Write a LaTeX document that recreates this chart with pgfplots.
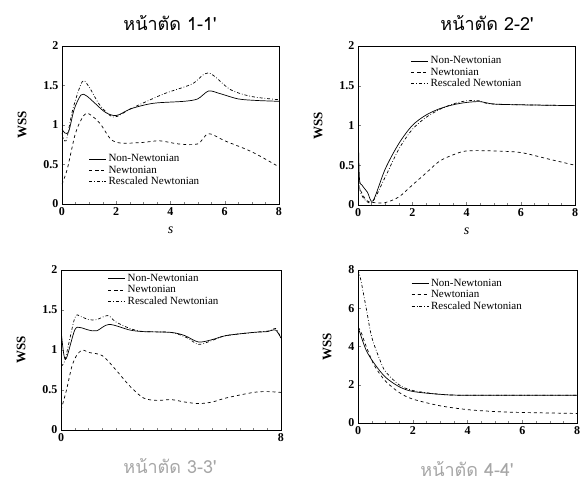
\documentclass[border=0pt]{standalone}
\usepackage{pgfplots}
\pgfplotsset{compat=1.18}
\usepackage{fontspec}
\setmainfont{Liberation Serif}
\newfontfamily\thaifont[Script=Thai]{Loma}

\pgfplotsset{
  wss/.style={
    scale only axis,
    xmin=0, xmax=8, ymin=0, ymax=2,
    xtick={0,2,4,6,8}, ytick={0,0.5,1,1.5,2},
    minor x tick num=3,
    tick align=inside, xtick pos=left, ytick pos=left,
    major tick length=3pt, minor tick length=2pt,
    axis line style={line width=0.6pt},
    ticklabel style={font=\bfseries\fontsize{12}{12}\selectfont},
    /pgf/number format/assume math mode=true,
    ylabel={\bfseries WSS}, ylabel style={font=\fontsize{13}{13}\selectfont, yshift=10pt},
    xlabel style={font=\itshape\fontsize{14}{14}\selectfont, yshift=-4pt},
    legend cell align=left,
    legend style={draw=none, fill=none, font=\fontsize{11}{11}\selectfont,
      row sep=-1.5pt, inner sep=0.5pt},
    every axis plot/.append style={line width=0.7pt, smooth, black},
  },
  nn/.style={solid},
  nw/.style={dashed},
  rs/.style={dashdotted},
}

\begin{document}
\begin{tikzpicture}
\useasboundingbox (0pt,0pt) rectangle (580pt,490pt);

% panel 1-1'
\begin{axis}[wss, at={(62pt,286pt)}, anchor=south west, width=217pt, height=158pt,
  xlabel={s},
  legend style={at={(0.12,0.33)}, anchor=north west}]
\addplot[nn] coordinates {(0,0.95) (0.1,0.9) (0.25,0.92) (0.45,1.2) (0.7,1.38) (0.9,1.37) (1.2,1.28) (1.6,1.16) (2,1.12) (2.5,1.2) (3,1.25) (3.5,1.28) (4.5,1.3) (5,1.33) (5.4,1.43) (5.8,1.4) (6.5,1.33) (7.2,1.31) (8,1.3)};
\addplot[nw] coordinates {(0,0.25) (0.2,0.45) (0.5,0.9) (0.8,1.12) (1,1.14) (1.4,1.02) (1.8,0.82) (2.2,0.77) (3,0.78) (3.6,0.8) (4.3,0.76) (5,0.76) (5.4,0.89) (6,0.8) (7,0.66) (8,0.47)};
\addplot[rs] coordinates {(0,0.9) (0.15,0.8) (0.4,1.2) (0.75,1.55) (1,1.48) (1.4,1.25) (1.9,1.1) (2.5,1.2) (3,1.28) (3.8,1.4) (4.8,1.52) (5.4,1.66) (6.2,1.45) (7,1.36) (8,1.32)};
\legend{Non-Newtonian, Newtonian, Rescaled Newtonian}
\end{axis}

% panel 2-2'
\begin{axis}[wss, at={(358pt,285pt)}, anchor=south west, width=217pt, height=159pt,
  xlabel={s},
  legend style={at={(0.24,0.95)}, anchor=north west}]
\addplot[nn] coordinates {(0,1.1) (0.05,0.35) (0.15,0.25) (0.35,0.16) (0.55,0.05) (1,0.45) (1.5,0.77) (2,1.0) (2.5,1.13) (3,1.21) (3.5,1.26) (4,1.29) (4.5,1.3) (5,1.27) (6,1.26) (8,1.25)};
\addplot[nw] coordinates {(0,0.25) (0.3,0.06) (0.6,0.03) (1,0.03) (1.5,0.1) (2,0.25) (2.5,0.4) (3,0.55) (3.5,0.63) (4,0.68) (5,0.68) (6,0.66) (7,0.58) (8,0.5)};
\addplot[rs] coordinates {(0,0.5) (0.1,0.15) (0.5,0.03) (1,0.35) (1.5,0.7) (2,0.95) (2.5,1.1) (3,1.2) (3.5,1.27) (4,1.31) (4.5,1.31) (5,1.27) (8,1.25)};
\legend{Non-Newtonian, Newtonian, Rescaled Newtonian}
\end{axis}

% panel 3-3'
\begin{axis}[wss, at={(61pt,60pt)}, anchor=south west, width=220pt, height=160pt,
  xtick={0,8}, minor xtick={0.5,1,...,7.5},
  legend style={at={(0.21,0.99)}, anchor=north west}]
\addplot[nn] coordinates {(0,1.25) (0.1,0.95) (0.2,0.9) (0.5,1.25) (0.7,1.28) (1,1.25) (1.3,1.24) (1.75,1.32) (2.5,1.25) (3,1.23) (4,1.22) (4.5,1.18) (5,1.1) (5.5,1.13) (6,1.18) (7,1.22) (7.5,1.23) (7.8,1.25) (8,1.15)};
\addplot[nw] coordinates {(0,0.25) (0.2,0.5) (0.4,0.8) (0.6,0.95) (0.8,1.0) (1,0.97) (1.5,0.93) (2,0.75) (2.5,0.55) (3,0.4) (3.5,0.37) (4,0.38) (4.5,0.35) (5,0.33) (5.5,0.35) (6,0.4) (7,0.47) (7.5,0.48) (8,0.47)};
\addplot[rs] coordinates {(0,0.8) (0.15,0.88) (0.5,1.4) (0.7,1.42) (1,1.38) (1.3,1.38) (1.7,1.43) (2,1.35) (2.5,1.27) (3,1.23) (4,1.22) (4.6,1.15) (5,1.07) (5.5,1.12) (6,1.18) (7,1.22) (7.6,1.24) (7.8,1.27) (8,1.15)};
\legend{Non-Newtonian, Newtonian, Rescaled Newtonian}
\end{axis}

% panel 4-4'
\begin{axis}[wss, at={(358pt,67pt)}, anchor=south west, width=219pt, height=153pt,
  ymax=8, ytick={0,2,4,6,8},
  legend style={at={(0.24,0.96)}, anchor=north west}]
\addplot[nn] coordinates {(0,5) (0.05,4.8) (0.3,3.8) (0.6,3.1) (1,2.4) (1.5,1.9) (2,1.65) (3,1.5) (4,1.45) (8,1.45)};
\addplot[nw] coordinates {(0,5) (0.1,4.8) (0.3,4.0) (0.6,3.0) (1,2.2) (1.5,1.6) (2,1.25) (3,0.9) (4,0.7) (5,0.6) (6,0.55) (8,0.5)};
\addplot[rs] coordinates {(0,8) (0.1,7.5) (0.3,6.0) (0.5,4.5) (0.8,3.3) (1,2.7) (1.5,2.0) (2,1.7) (3,1.5) (4,1.45) (8,1.45)};
\legend{Non-Newtonian, Newtonian, Rescaled Newtonian}
\end{axis}

\node[font=\thaifont\fontsize{18}{18}\selectfont] at (170pt,467pt) {หน้าตัด 1-1'};
\node[font=\thaifont\fontsize{18}{18}\selectfont] at (487pt,467pt) {หน้าตัด 2-2'};
\node[font=\thaifont\fontsize{18}{18}\selectfont, text=gray!70] at (170pt,24pt) {หน้าตัด 3-3'};
\node[font=\thaifont\fontsize{18}{18}\selectfont, text=gray!70] at (467pt,21pt) {หน้าตัด 4-4'};
\end{tikzpicture}
\end{document}
